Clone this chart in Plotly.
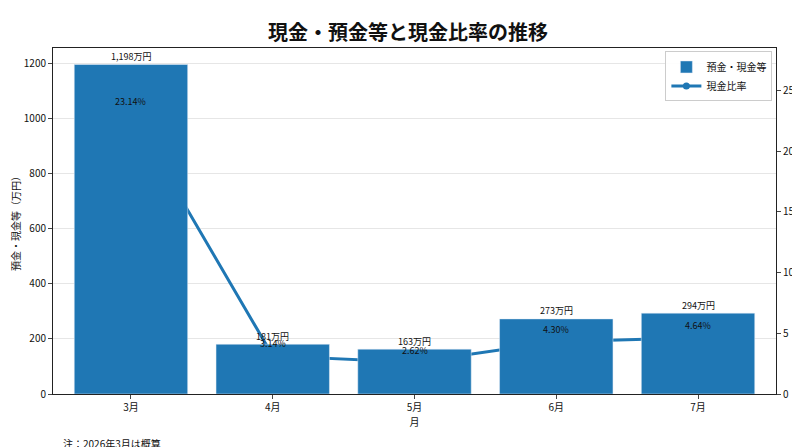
import plotly.graph_objects as go

months = ["3月", "4月", "5月", "6月", "7月"]
deposits = [1198, 181, 163, 273, 294]
ratios = [23.14, 3.14, 2.62, 4.30, 4.64]
bar_labels = ["1,198万円", "181万円", "163万円", "273万円", "294万円"]
ratio_labels = ["23.14%", "3.14%", "2.62%", "4.30%", "4.64%"]

F = "Noto Sans CJK JP"
blue = "#1f77b4"
fig = go.Figure()
fig.add_trace(go.Scatter(x=months, y=ratios, name="現金比率", mode="lines+markers",
                         line=dict(color=blue, width=3), marker=dict(size=7), yaxis="y", showlegend=True, legendrank=2))
fig.add_trace(go.Bar(x=months, y=deposits, name="預金・現金等", marker_color=blue, width=0.8,
                     yaxis="y2", legendrank=1))
ann = []
for m, v, t in zip(months, deposits, bar_labels):
    ann.append(dict(x=m, y=v, yref="y2", text=t, showarrow=False, yshift=8, font=dict(size=9, color="#111")))
for m, v, t in zip(months, ratios, ratio_labels):
    ann.append(dict(x=m, y=v, yref="y", text=t, showarrow=False, yshift=12, font=dict(size=9, color="#111")))
ann.append(dict(x=0.0, y=0.0, xref="paper", yref="paper", xanchor="left", yanchor="middle",
                text="注：2026年3月は概算", showarrow=False, xshift=8, yshift=-49, font=dict(size=10, color="#111")))
fig.update_layout(
    width=800, height=447, margin=dict(l=45, r=32, t=40, b=61, autoexpand=False),
    paper_bgcolor="white", plot_bgcolor="white", font=dict(family=F, size=10, color="#111"),
    title=dict(text="<b>現金・預金等と現金比率の推移</b>", x=0.5, xanchor="center", y=0.96, font=dict(size=20)),
    xaxis=dict(title=dict(text="月", font=dict(size=10), standoff=2), showline=True, linecolor="#222", mirror=True,
               ticks="outside", ticklen=4, range=[-0.55, 4.55], automargin=False),
    yaxis=dict(side="right", range=[0, 28.5], tickvals=[0, 5, 10, 15, 20, 25], showgrid=False,
               title=dict(text="現金比率（%）", font=dict(size=10), standoff=4), showline=True, linecolor="#222",
               ticks="outside", ticklen=4, zeroline=False, automargin=False),
    yaxis2=dict(side="left", overlaying="y", range=[0, 1258], dtick=200, showgrid=True, gridcolor="#e6e6e6",
                title=dict(text="預金・現金等（万円）", font=dict(size=10), standoff=4), showline=True, linecolor="#222",
                ticks="outside", ticklen=4, zeroline=False, automargin=False),
    legend=dict(x=0.995, y=0.99, xanchor="right", yanchor="top", bordercolor="#ccc", borderwidth=1,
                bgcolor="rgba(255,255,255,0.9)", font=dict(size=10), traceorder="normal"),
    annotations=ann, bargap=0.2,
)
fig.write_html("out.html")
